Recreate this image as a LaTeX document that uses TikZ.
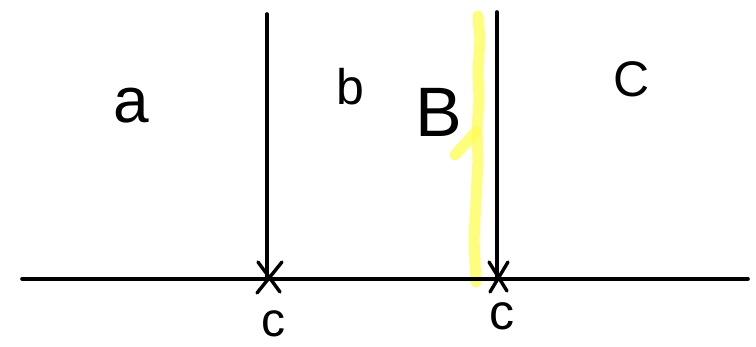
\documentclass[tikz,border=0pt]{standalone}
\usepackage{fontspec}
\setmainfont{Liberation Sans}
\begin{document}
\begin{tikzpicture}[x=1pt,y=-1pt,
  ink/.style={line width=3.6pt,line cap=round,black},
  cross/.style={line width=3.4pt,line cap=round,black},
  hl/.style={line width=11pt,line cap=round,line join=round,draw={rgb,255:red,255;green,252;blue,80},opacity=0.75},
  lbl/.style={inner sep=0pt,anchor=base}]
\useasboundingbox (0,0) rectangle (756,347);
% highlighter
\coordinate (y0) at (478,16);
\coordinate (y1) at (476,282);
\draw[hl] (y0) -- (480,40) -- (478,70) -- (479,100) -- (477,130) -- (478,160) -- (476,200) -- (474,240) -- (y1);
\draw[hl] (455,155) -- (476,132);
% lines
\coordinate (hL) at (22,279);
\coordinate (hR) at (748,279);
\coordinate (v1t) at (267,14);
\coordinate (v1b) at (267,279);
\coordinate (v2t) at (497,12);
\coordinate (v2b) at (497,279);
\draw[ink] (hL) -- (hR);
\draw[ink] (v1t) -- (v1b);
\draw[ink] (v2t) -- (v2b);
% crosses
\draw[cross] (258,262) -- (280,292);
\draw[cross] (282,262) -- (257,293);
\draw[cross] (489,262) -- (507,291);
\draw[cross] (508,262) -- (490,292);
% labels
\node[lbl,font=\fontsize{64}{64}\selectfont] (a) at (131,123) {a};
\node[lbl,font=\fontsize{50}{50}\selectfont] (b) at (350,105) {b};
\node[lbl,font=\fontsize{70}{70}\selectfont] (B) at (439,137) {B};
\node[lbl,font=\fontsize{50}{50}\selectfont] (C) at (632,97) {C};
\node[lbl,font=\fontsize{48}{48}\selectfont] (c1) at (273,337) {c};
\node[lbl,font=\fontsize{50}{50}\selectfont] (c2) at (502,330) {c};
\end{tikzpicture}
\end{document}
